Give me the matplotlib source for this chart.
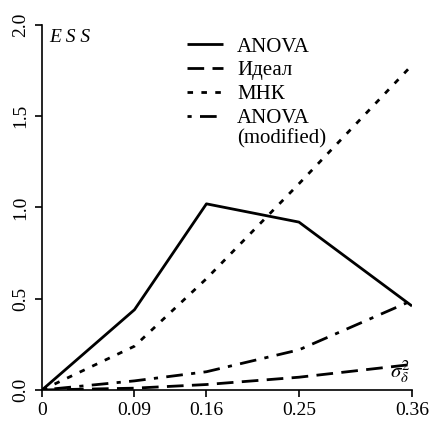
import matplotlib
matplotlib.use('Agg')
import matplotlib.pyplot as plt

# данные
x = [0, 0.09, 0.16, 0.25, 0.36]
anova = [0, 0.44, 1.02, 0.92, 0.46]
ideal = [0, 0.01, 0.03, 0.07, 0.14]
mnk = [0, 0.24, 0.61, 1.13, 1.78]
anova_mod = [0, 0.05, 0.10, 0.22, 0.49]
xticks = [0, 0.09, 0.16, 0.25, 0.36]
xticklabels = ['0', '0.09', '0.16', '0.25', '0.36']
yticks = [0.0, 0.5, 1.0, 1.5, 2.0]

plt.rcParams['font.family'] = ['Liberation Serif', 'DejaVu Serif']
plt.rcParams['mathtext.fontset'] = 'stix'

fig = plt.figure(figsize=(4.32, 4.28), dpi=100)
ax = fig.add_axes([0.0972, 0.0888, 0.8565, 0.8528])

lw = 2.0
ax.plot(x, anova, color='black', lw=lw, label='ANOVA', solid_capstyle='butt')
ax.plot(x, ideal, color='black', lw=lw, dashes=(6, 3), label='Идеал')
ax.plot(x, mnk, color='black', lw=lw, dashes=(2, 3), label='МНК')
ax.plot(x, anova_mod, color='black', lw=lw, dashes=(1.5, 3, 6, 3), label='ANOVA')

ax.set_xlim(0, 0.36)
ax.set_ylim(0, 2.0)
ax.set_xticks(xticks)
ax.set_xticklabels(xticklabels)
ax.set_yticks(yticks)
ax.set_yticklabels(['%.1f' % v for v in yticks], rotation=90, va='center')
ax.tick_params(direction='out', length=5, width=1.2, labelsize=14, pad=4)
ax.spines['top'].set_visible(False)
ax.spines['right'].set_visible(False)
ax.spines['left'].set_linewidth(1.2)
ax.spines['bottom'].set_linewidth(1.2)

ax.text(0.02, 0.99, 'E S S', transform=ax.transAxes, fontsize=14,
        style='italic', ha='left', va='top')
ax.text(0.995, 0.015, r'$\sigma_\delta^2$', transform=ax.transAxes,
        fontsize=15, ha='right', va='bottom')

leg = ax.legend(loc='upper left', bbox_to_anchor=(0.37, 0.99), frameon=False,
                fontsize=15, handlelength=1.7, handletextpad=0.7,
                labelspacing=0.2, borderaxespad=0)

fig.canvas.draw()
bb = leg.get_texts()[-1].get_window_extent()
inv = ax.transAxes.inverted()
x0, y0 = inv.transform((bb.x0, bb.y0))
ax.text(x0, y0 - 0.003, '(modified)', transform=ax.transAxes, fontsize=15,
        ha='left', va='top')

fig.savefig('out.png', dpi=100)
